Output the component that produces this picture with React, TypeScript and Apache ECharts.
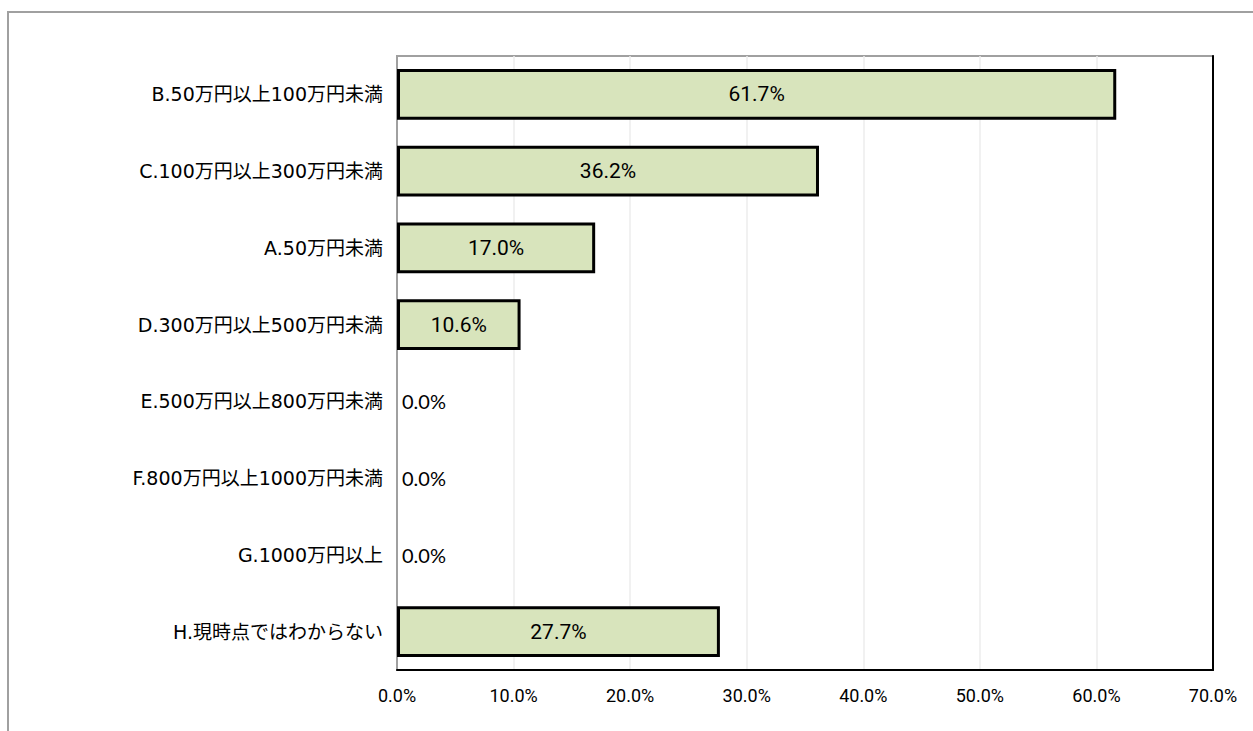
import React, { useEffect, useRef } from "react";
import * as echarts from "echarts";

const categories = [
  "B.50万円以上100万円未満",
  "C.100万円以上300万円未満",
  "A.50万円未満",
  "D.300万円以上500万円未満",
  "E.500万円以上800万円未満",
  "F.800万円以上1000万円未満",
  "G.1000万円以上",
  "H.現時点ではわからない",
];
const values = [61.7, 36.2, 17.0, 10.6, 0.0, 0.0, 0.0, 27.7];
const xTicks = { min: 0, max: 70, interval: 10 };

const narrow = "'Liberation Sans Narrow', 'Arial Narrow', Roboto, sans-serif";

export default function App() {
  const ref = useRef<HTMLDivElement>(null);
  useEffect(() => {
    if (!ref.current) return;
    const chart = echarts.init(ref.current, null, { renderer: "svg" });
    const data = values.map((v) =>
      v === 0
        ? {
            value: v,
            itemStyle: { borderWidth: 0 },
            label: {
              position: "right",
              distance: 5,
              fontFamily: "Lato, 'Noto Sans', sans-serif",
              fontSize: 20,
            },
          }
        : { value: v }
    );
    chart.setOption({
      animation: false,
      backgroundColor: "#ffffff",
      graphic: [
        {
          type: "rect",
          shape: { x: 8, y: 12, width: 1400, height: 900 },
          style: { fill: "none", stroke: "#a0a0a0", lineWidth: 2 },
          silent: true,
          z: -1,
        },
      ],
      grid: {
        left: 397,
        right: 40,
        top: 56,
        bottom: 61,
        show: true,
        borderColor: "#a0a0a0",
        borderWidth: 2,
        backgroundColor: "transparent",
      },
      xAxis: {
        type: "value",
        min: xTicks.min,
        max: xTicks.max,
        interval: xTicks.interval,
        axisLine: { show: true, lineStyle: { color: "#000000", width: 2 } },
        axisTick: { show: false },
        splitLine: { show: true, lineStyle: { color: "#ececec", width: 1.5 } },
        axisLabel: {
          formatter: (v: number) => `${v.toFixed(1)}%`,
          fontFamily: narrow,
          fontSize: 18,
          color: "#000000",
          margin: 16,
        },
      },
      yAxis: [
        {
          type: "category",
          data: categories,
          inverse: true,
          axisLine: { show: true, lineStyle: { color: "#a0a0a0", width: 2 } },
          axisTick: { show: false },
          axisLabel: {
            fontFamily: "'DejaVu Sans', 'Noto Sans CJK JP', sans-serif",
            fontSize: 19,
            color: "#000000",
            margin: 14,
          },
        },
        {
          type: "category",
          data: categories,
          inverse: true,
          position: "right",
          axisLine: { show: true, lineStyle: { color: "#000000", width: 2 } },
          axisTick: { show: false },
          axisLabel: { show: false },
        },
      ],
      series: [
        {
          type: "bar",
          yAxisIndex: 0,
          data,
          barWidth: "66%",
          itemStyle: { color: "#d8e4bc", borderColor: "#000000", borderWidth: 3 },
          label: {
            show: true,
            position: "inside",
            formatter: (p: any) => `${Number(p.value).toFixed(1)}%`,
            fontFamily: narrow,
            fontSize: 21,
            color: "#000000",
          },
        },
      ],
    });
    return () => chart.dispose();
  }, []);
  return (
    <div
      ref={ref}
      style={{ position: "fixed", left: 0, top: 0, width: 1253, height: 731 }}
    />
  );
}
